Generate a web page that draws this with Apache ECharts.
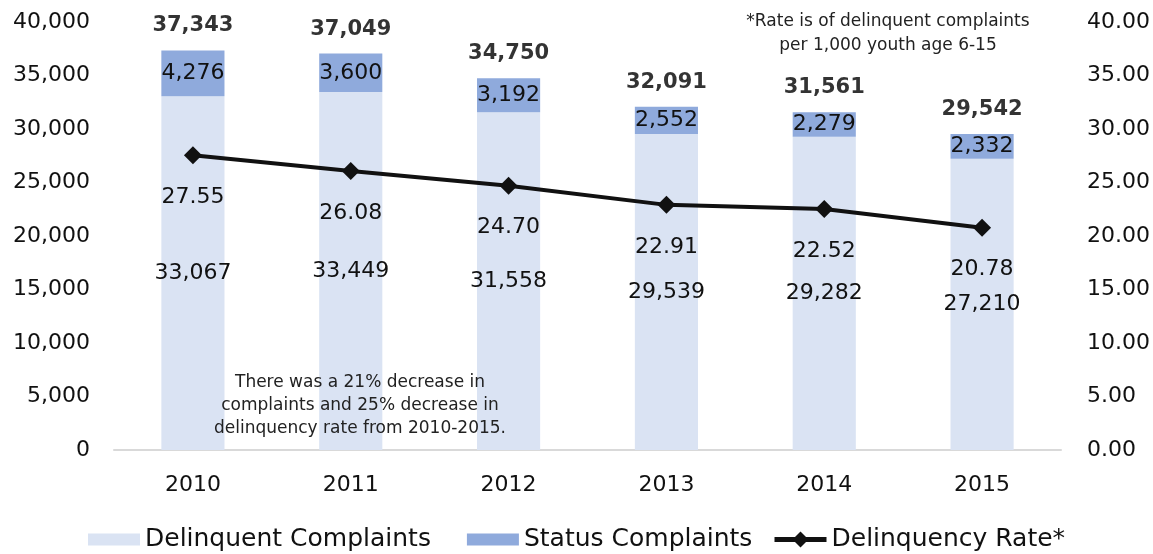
<!DOCTYPE html>
<html>
<head>
<meta charset="utf-8">
<script src="https://cdn.jsdelivr.net/npm/echarts@6/dist/echarts.min.js"></script>
<style>
  html, body { margin: 0; padding: 0; background: #fff; }
  #chart { width: 1153px; height: 554px; }
</style>
</head>
<body>
<div id="chart"></div>
<script>
var years = ['2010', '2011', '2012', '2013', '2014', '2015'];
var delinquentVals = [33067, 33449, 31558, 29539, 29282, 27210];
var statusVals = [4276, 3600, 3192, 2552, 2279, 2332];
var rateVals = [27.55, 26.08, 24.70, 22.91, 22.52, 20.78];
var countTicks = [0, 40000, 5000];
var rateTicks = [0, 40, 5];

var totals = delinquentVals.map(function (v, i) { return v + statusVals[i]; });
var font = 'DejaVu Sans';

function comma(v) {
    return String(v).replace(/\B(?=(\d{3})+(?!\d))/g, ',');
}

var myChart = echarts.init(document.getElementById('chart'));
var option = {
    animation: false,
    textStyle: { fontFamily: font },
    grid: { left: 114, right: 92, top: 22, bottom: 104 },
    legend: [{
        top: 522,
        left: 83,
        itemWidth: 52,
        itemHeight: 12,
        itemGap: 36,
        textStyle: { fontSize: 25, color: '#111', fontFamily: font },
        data: [
            { name: 'Delinquent Complaints', icon: 'rect' },
            { name: 'Status Complaints', icon: 'rect' }
        ]
    }, {
        top: 522,
        left: 767,
        itemWidth: 52,
        itemHeight: 20,
        textStyle: { fontSize: 25, color: '#111', fontFamily: font },
        data: [
            { name: 'Delinquency Rate*', lineStyle: { width: 5 }, itemStyle: { color: '#111' } }
        ]
    }],
    xAxis: {
        type: 'category',
        data: years,
        axisLine: { lineStyle: { color: '#d9d9d9', width: 2 } },
        axisTick: { show: false },
        axisLabel: { fontSize: 22, color: '#111', margin: 24 }
    },
    yAxis: [{
        type: 'value',
        min: countTicks[0],
        max: countTicks[1],
        interval: countTicks[2],
        splitLine: { show: false },
        axisLine: { show: false },
        axisLabel: { fontSize: 22, color: '#111', margin: 24, formatter: comma }
    }, {
        type: 'value',
        min: rateTicks[0],
        max: rateTicks[1],
        interval: rateTicks[2],
        splitLine: { show: false },
        axisLine: { show: false },
        axisLabel: {
            fontSize: 22, color: '#111', margin: 26,
            formatter: function (v) { return v.toFixed(2); }
        }
    }],
    series: [{
        name: 'Delinquent Complaints',
        type: 'bar',
        stack: 'c',
        barWidth: '40%',
        data: delinquentVals,
        itemStyle: { color: '#dae3f3' },
        label: {
            show: true, position: 'inside', fontSize: 22, color: '#111',
            formatter: function (p) { return comma(p.value); }
        }
    }, {
        name: 'Status Complaints',
        type: 'bar',
        stack: 'c',
        data: statusVals,
        itemStyle: { color: '#8faadc' },
        label: {
            show: true, position: 'inside', fontSize: 22, color: '#111',
            formatter: function (p) { return comma(p.value); }
        }
    }, {
        name: 'Total',
        type: 'scatter',
        data: totals,
        symbolSize: 0,
        itemStyle: { color: 'transparent' },
        silent: true,
        label: {
            show: true, position: 'top', distance: 14,
            fontSize: 21, fontWeight: 'bold', color: '#000',
            formatter: function (p) { return comma(p.value); }
        }
    }, {
        name: 'Delinquency Rate*',
        type: 'line',
        yAxisIndex: 1,
        data: rateVals,
        symbol: 'diamond',
        symbolSize: 18,
        lineStyle: { color: '#111', width: 4 },
        itemStyle: { color: '#111' },
        label: {
            show: true, position: 'bottom', distance: 22,
            fontSize: 22, color: '#111',
            formatter: function (p) { return p.value.toFixed(2); }
        },
        z: 5
    }],
    graphic: [{
        type: 'text',
        x: 360, y: 371,
        z: 100,
        style: {
            text: 'There was a 21% decrease in\ncomplaints and 25% decrease in\ndelinquency rate from 2010-2015.',
            align: 'center',
            font: '17px "DejaVu Sans"',
            lineHeight: 23,
            fill: '#222'
        }
    }, {
        type: 'text',
        x: 888, y: 10,
        z: 100,
        style: {
            text: '*Rate is of delinquent complaints\nper 1,000 youth age 6-15',
            align: 'center',
            font: '17px "DejaVu Sans"',
            lineHeight: 24,
            fill: '#222'
        }
    }]
};
myChart.setOption(option);
window.onresize = function () { myChart.resize(); };
</script>
</body>
</html>
